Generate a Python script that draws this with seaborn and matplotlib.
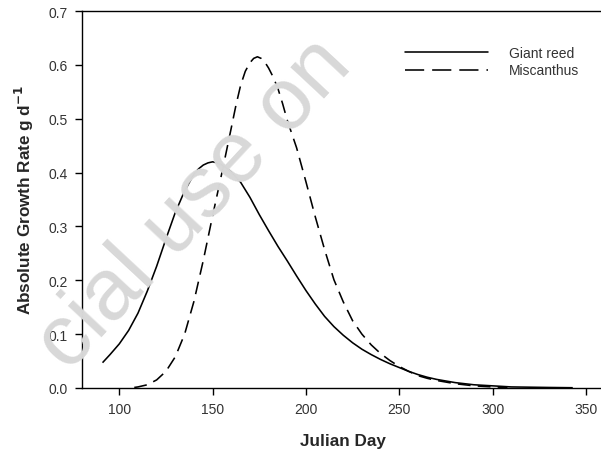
import numpy as np
import pandas as pd
import matplotlib
matplotlib.use("Agg")
import matplotlib.pyplot as plt
from matplotlib.lines import Line2D
import seaborn as sns

# Data
reed_day = [91, 95, 100, 105, 110, 115, 120, 125, 130, 135, 140, 142.5, 145, 147.5, 150,
            152.5, 155, 157.5, 160, 165, 170, 175, 180, 185, 190, 195, 200, 205, 210, 215,
            220, 225, 230, 235, 240, 245, 250, 255, 260, 265, 270, 280, 290, 300, 310, 320,
            330, 343]
reed_rate = [0.047, 0.062, 0.082, 0.107, 0.139, 0.180, 0.226, 0.277, 0.326, 0.366, 0.397,
             0.407, 0.414, 0.418, 0.420, 0.418, 0.414, 0.408, 0.401, 0.382, 0.354, 0.322,
             0.292, 0.263, 0.236, 0.208, 0.181, 0.156, 0.133, 0.114, 0.098, 0.084, 0.072,
             0.062, 0.053, 0.045, 0.038, 0.031, 0.025, 0.020, 0.016, 0.010, 0.006, 0.004,
             0.002, 0.0015, 0.001, 0.0005]
misc_day = [108, 110, 115, 120, 125, 130, 135, 140, 145, 150, 155, 160, 162.5, 165, 167.5,
            170, 172, 174, 176, 178, 180, 182.5, 185, 187.5, 190, 195, 200, 205, 210, 215,
            220, 225, 230, 235, 240, 245, 250, 255, 260, 265, 270, 280, 290, 300, 308]
misc_rate = [0.001, 0.002, 0.006, 0.015, 0.031, 0.058, 0.100, 0.161, 0.237, 0.320, 0.400,
             0.483, 0.525, 0.562, 0.588, 0.604, 0.612, 0.615, 0.612, 0.605, 0.594, 0.577,
             0.556, 0.528, 0.497, 0.446, 0.383, 0.318, 0.257, 0.201, 0.160, 0.125, 0.100,
             0.080, 0.064, 0.051, 0.040, 0.031, 0.023, 0.018, 0.014, 0.008, 0.004, 0.002,
             0.001]
series_names = ["Giant reed", "Miscanthus"]
x_ticks = [100, 150, 200, 250, 300, 350]
y_ticks = [0.0, 0.1, 0.2, 0.3, 0.4, 0.5, 0.6, 0.7]
watermark = "cial use on"

df = pd.concat([
    pd.DataFrame({"day": reed_day, "rate": reed_rate, "crop": series_names[0]}),
    pd.DataFrame({"day": misc_day, "rate": misc_rate, "crop": series_names[1]}),
])

sns.set_style("ticks")
plt.rcParams["font.family"] = ["Liberation Sans", "DejaVu Sans"]

W, H = 601, 452
fig = plt.figure(figsize=(W / 100, H / 100), dpi=100)
ax = fig.add_axes([82 / W, 1 - 389 / H, (604.5 - 82) / W, (389 - 12) / H])

# faint watermark
fig.text(195 / W, 1 - 205 / H, watermark, fontsize=63, color="#d8d8d8",
         rotation=47, rotation_mode="anchor", ha="center", va="center", zorder=0)

LW = 1.15
sns.lineplot(data=df, x="day", y="rate", hue="crop", style="crop",
             palette=["black", "black"], dashes=[(1, 0), (8, 4.5)],
             linewidth=LW, ax=ax, legend=False, sort=False, estimator=None)

ax.set_xlim(80, 360)
ax.set_ylim(0, 0.7)
ax.set_xticks(x_ticks)
ax.set_yticks(y_ticks)
ax.set_yticklabels([f"{v:.1f}" for v in y_ticks])
ax.tick_params(axis="both", direction="out", length=5, width=1, colors="black",
               labelcolor="#333333", labelsize=10, pad=5)
for s in ["left", "bottom", "top"]:
    ax.spines[s].set_visible(True)
    ax.spines[s].set_linewidth(1.0)
    ax.spines[s].set_color("black")
ax.spines["right"].set_visible(False)
ax.patch.set_alpha(0)

ax.set_xlabel("Julian Day", fontsize=12.3, fontweight="bold", labelpad=12)
ax.set_ylabel("Absolute Growth Rate g d$^{\\mathbf{-1}}$", fontsize=12.3,
              fontweight="bold", labelpad=9)

# legend
handles = [Line2D([], [], color="black", lw=LW),
           Line2D([], [], color="black", lw=LW, dashes=(12, 5))]
leg = fig.legend(handles, series_names, loc="upper left",
                 bbox_to_anchor=(405 / W, 1 - 47 / H), borderaxespad=0, borderpad=0,
                 frameon=False, fontsize=10, handlelength=6.0, handletextpad=1.5,
                 labelspacing=0.25)
for t in leg.get_texts():
    t.set_color("#333333")

fig.savefig("out.png", dpi=100)
